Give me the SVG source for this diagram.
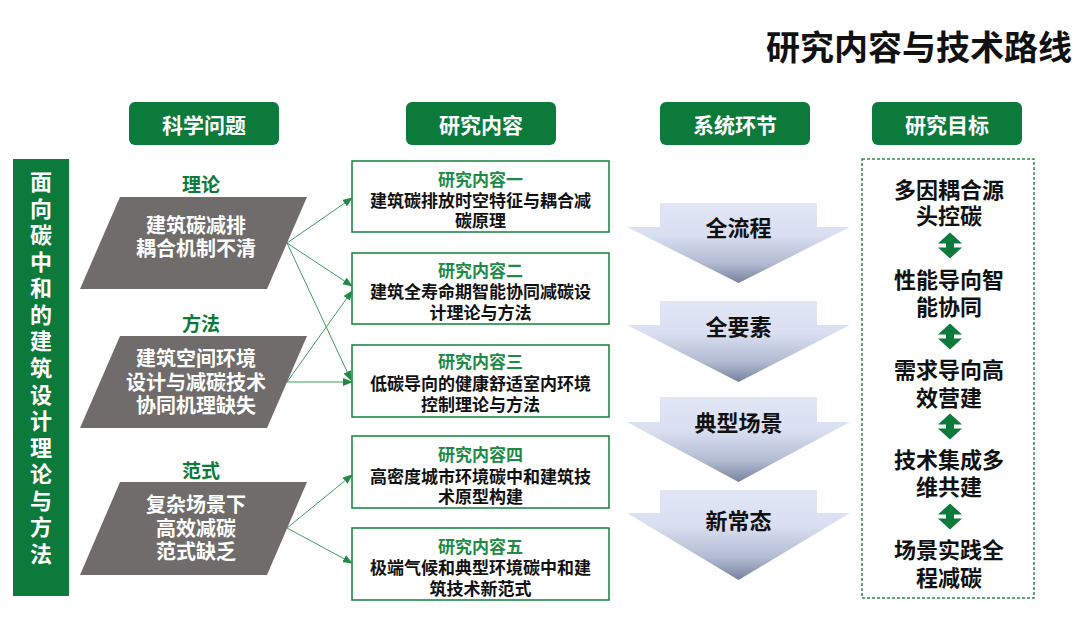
<svg xmlns="http://www.w3.org/2000/svg" width="1080" height="621" viewBox="0 0 1080 621">
<style>
text{font-family:"Noto Sans CJK SC","Noto Sans CJK JP",sans-serif;font-weight:700;text-anchor:middle;dominant-baseline:central}
.hdr{fill:#0B7A3B}
.hdrt{fill:#fff;font-size:21px}
.para{fill:#706C6C}
.parat{fill:#fff;font-size:20px}
.lbl{fill:#0B7A3B;font-size:19px}
.box{fill:#fff;stroke:#1E8A45;stroke-width:1.6}
.bt{fill:#1E8A45;font-size:17px}
.bb{fill:#111;font-size:17px}
.sys{fill:url(#gArrow)}
.syst{fill:#111;font-size:22px}
.goal{fill:#111;font-size:22px}
.conn line{stroke:#3E9C62;stroke-width:1;marker-end:url(#ah)}
.dbl{fill:#0B7A3B}
</style>
<defs>
<linearGradient id="gArrow" x1="0" y1="0" x2="0" y2="1">
<stop offset="0" stop-color="#E1E6F5"/>
<stop offset="0.4" stop-color="#D9DFF1"/>
<stop offset="0.75" stop-color="#B2BBD2"/>
<stop offset="1" stop-color="#78829E"/>
</linearGradient>
<marker id="ah" markerWidth="10" markerHeight="8" refX="9" refY="4" orient="auto" markerUnits="userSpaceOnUse">
<path d="M0,0 L10,4 L0,8 Z" fill="#1E8A45"/>
</marker>
<path id="dblArrow" d="M0,-13 L12,-2 L4,-2 L4,2 L12,2 L0,13 L-12,2 L-4,2 L-4,-2 L-12,-2 Z"/>
</defs>
<rect width="1080" height="621" fill="#fff"/>

<text id="title" x="919" y="45" style="font-size:34px;fill:#111">研究内容与技术路线</text>

<g id="hdr1"><rect class="hdr" x="129" y="102" width="150" height="43" rx="6"/><text class="hdrt" x="204" y="124">科学问题</text></g>
<g id="hdr2"><rect class="hdr" x="406" y="102" width="150" height="43" rx="6"/><text class="hdrt" x="481" y="124">研究内容</text></g>
<g id="hdr3"><rect class="hdr" x="660" y="102" width="150" height="43" rx="6"/><text class="hdrt" x="735" y="124">系统环节</text></g>
<g id="hdr4"><rect class="hdr" x="872" y="102" width="150" height="43" rx="6"/><text class="hdrt" x="947" y="124">研究目标</text></g>

<g id="sidebar">
<rect x="13" y="159" width="56" height="437" fill="#0B7A3B"/>
<text style="font-size:22px;fill:#fff"><tspan x="41" y="180">面</tspan><tspan x="41" y="206.6">向</tspan><tspan x="41" y="233.1">碳</tspan><tspan x="41" y="259.7">中</tspan><tspan x="41" y="286.3">和</tspan><tspan x="41" y="312.9">的</tspan><tspan x="41" y="339.4">建</tspan><tspan x="41" y="366">筑</tspan><tspan x="41" y="392.6">设</tspan><tspan x="41" y="419.1">计</tspan><tspan x="41" y="445.7">理</tspan><tspan x="41" y="472.3">论</tspan><tspan x="41" y="498.9">与</tspan><tspan x="41" y="525.4">方</tspan><tspan x="41" y="552">法</tspan></text>
</g>

<g id="q1">
<text class="lbl" x="201" y="183">理论</text>
<polygon class="para" points="120,197 307,197 267,289 80,289"/>
<text class="parat"><tspan x="196" y="224">建筑碳减排</tspan><tspan x="196" y="247">耦合机制不清</tspan></text>
</g>
<g id="q2">
<text class="lbl" x="201" y="322">方法</text>
<polygon class="para" points="120,336 307,336 267,428 80,428"/>
<text class="parat"><tspan x="196" y="357">建筑空间环境</tspan><tspan x="196" y="381">设计与减碳技术</tspan><tspan x="196" y="404">协同机理缺失</tspan></text>
</g>
<g id="q3">
<text class="lbl" x="201" y="469">范式</text>
<polygon class="para" points="120,482 307,482 267,575 80,575"/>
<text class="parat"><tspan x="196" y="503">复杂场景下</tspan><tspan x="196" y="527">高效减碳</tspan><tspan x="196" y="550">范式缺乏</tspan></text>
</g>

<g id="c1"><rect class="box" x="352" y="161" width="257" height="71"/><text class="bt" x="480.5" y="178">研究内容一</text><text class="bb"><tspan x="480.5" y="198.5">建筑碳排放时空特征与耦合减</tspan><tspan x="480.5" y="218.5">碳原理</tspan></text></g>
<g id="c2"><rect class="box" x="352" y="253" width="257" height="71"/><text class="bt" x="480.5" y="269">研究内容二</text><text class="bb"><tspan x="480.5" y="290">建筑全寿命期智能协同减碳设</tspan><tspan x="480.5" y="311">计理论与方法</tspan></text></g>
<g id="c3"><rect class="box" x="352" y="345" width="257" height="72"/><text class="bt" x="480.5" y="360.5">研究内容三</text><text class="bb"><tspan x="480.5" y="382">低碳导向的健康舒适室内环境</tspan><tspan x="480.5" y="402.5">控制理论与方法</tspan></text></g>
<g id="c4"><rect class="box" x="352" y="436" width="257" height="72"/><text class="bt" x="480.5" y="453">研究内容四</text><text class="bb"><tspan x="480.5" y="474.5">高密度城市环境碳中和建筑技</tspan><tspan x="480.5" y="495">术原型构建</tspan></text></g>
<g id="c5"><rect class="box" x="352" y="528" width="257" height="72"/><text class="bt" x="480.5" y="545">研究内容五</text><text class="bb"><tspan x="480.5" y="566">极端气候和典型环境碳中和建</tspan><tspan x="480.5" y="587">筑技术新范式</tspan></text></g>

<g id="connectors" class="conn">
<line x1="287" y1="243" x2="352" y2="198"/>
<line x1="287" y1="243" x2="352" y2="286"/>
<line x1="287" y1="243" x2="351" y2="380"/>
<line x1="287" y1="382" x2="352" y2="291"/>
<line x1="287" y1="382" x2="352" y2="382"/>
<line x1="287" y1="528" x2="352" y2="475"/>
<line x1="287" y1="528" x2="352" y2="563"/>
</g>

<g id="s1"><polygon class="sys" points="660,203 817,203 817,227 850,227 738.5,283 627,227 660,227"/><text class="syst" x="738.5" y="226">全流程</text></g>
<g id="s2"><polygon class="sys" points="660,301 817,301 817,325 850,325 738.5,382 627,325 660,325"/><text class="syst" x="738.5" y="325">全要素</text></g>
<g id="s3"><polygon class="sys" points="660,397 817,397 817,422 850,422 738.5,482 627,422 660,422"/><text class="syst" x="738.5" y="421">典型场景</text></g>
<g id="s4"><polygon class="sys" points="660,490 817,490 817,513 850,513 738.5,580 627,513 660,513"/><text class="syst" x="738.5" y="519">新常态</text></g>

<g id="goals">
<rect x="862" y="159" width="172" height="439" fill="none" stroke="#2E8B4E" stroke-width="1.5" stroke-dasharray="3,2"/>
<g id="g1"><text class="goal"><tspan x="949" y="188">多因耦合源</tspan><tspan x="949" y="214">头控碳</tspan></text></g>
<use href="#dblArrow" class="dbl" transform="translate(950,245.5)"/>
<g id="g2"><text class="goal"><tspan x="949" y="278">性能导向智</tspan><tspan x="949" y="305">能协同</tspan></text></g>
<use href="#dblArrow" class="dbl" transform="translate(950,336.5)"/>
<g id="g3"><text class="goal"><tspan x="949" y="368">需求导向高</tspan><tspan x="949" y="396">效营建</tspan></text></g>
<use href="#dblArrow" class="dbl" transform="translate(950,426.5)"/>
<g id="g4"><text class="goal"><tspan x="949" y="458">技术集成多</tspan><tspan x="949" y="485">维共建</tspan></text></g>
<use href="#dblArrow" class="dbl" transform="translate(950,516.5)"/>
<g id="g5"><text class="goal"><tspan x="949" y="548">场景实践全</tspan><tspan x="949" y="576">程减碳</tspan></text></g>
</g>
</svg>
